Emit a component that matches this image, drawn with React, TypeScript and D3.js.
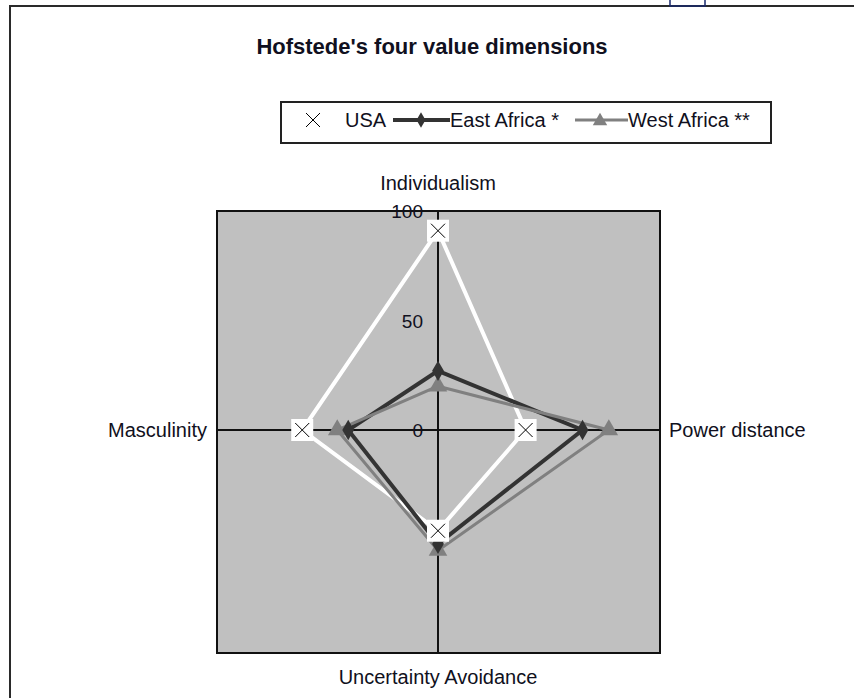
import React from "react";
import * as d3 from "d3";

const categories = ["Individualism", "Power distance", "Uncertainty Avoidance", "Masculinity"];
const seriesNames = ["USA", "East Africa *", "West Africa **"];
const usaValues = [91, 40, 46, 62];
const eastAfricaValues = [27, 66, 52, 41];
const westAfricaValues = [20, 78, 55, 46];
const tickValues = [0, 50, 100];

const W = 854;
const H = 698;
const cx = 438;
const cy = 430;
const R = 219;
const FONT = "'Liberation Sans', Arial, sans-serif";
const TXT = "#101020";

const r = d3.scaleLinear().domain([0, 100]).range([0, R]);
const angle = d3
  .scalePoint<string>()
  .domain(categories)
  .range([0, 2 * Math.PI * (3 / 4)]);

function pt(cat: string, v: number): [number, number] {
  const a = angle(cat) as number;
  return [cx + r(v) * Math.sin(a), cy - r(v) * Math.cos(a)];
}

const radial = d3
  .lineRadial<number>()
  .angle((_, i) => angle(categories[i]) as number)
  .radius((v) => r(v))
  .curve(d3.curveLinearClosed);

const diamond = d3.symbol().type(d3.symbolDiamond).size(120)() as string;
const triangle = d3.symbol().type(d3.symbolTriangle).size(150)() as string;
const diamondLegend = d3.symbol().type(d3.symbolDiamond).size(70)() as string;
const triangleLegend = d3.symbol().type(d3.symbolTriangle).size(90)() as string;

function XMarker({ x, y, box }: { x: number; y: number; box: boolean }) {
  const s = 7;
  return (
    <g transform={`translate(${x},${y})`}>
      {box && <rect x={-11} y={-11} width={22} height={22} fill="#ffffff" />}
      <path d={`M${-s},${-s}L${s},${s}M${-s},${s}L${s},${-s}`} stroke="#000" strokeWidth={1} fill="none" />
    </g>
  );
}

export default function App() {
  const series = [
    { name: seriesNames[0], values: usaValues, color: "#ffffff", width: 4 },
    { name: seriesNames[1], values: eastAfricaValues, color: "#333333", width: 4 },
    { name: seriesNames[2], values: westAfricaValues, color: "#808080", width: 3 },
  ];
  const plotLeft = 217;
  const plotRight = 660;
  const plotTop = 211;
  const plotBottom = 653;

  return (
    <svg
      width={W}
      height={H}
      style={{ position: "absolute", left: 0, top: 0, background: "#fff" }}
      fontFamily={FONT}
    >
      {/* outer frame */}
      <rect x={10} y={6} width={900} height={760} fill="#fff" stroke="#2a2a2a" strokeWidth={2} />
      <rect x={670} y={-2} width={35} height={8} fill="none" stroke="#1a2a6c" strokeWidth={1.5} />

      {/* title */}
      <text x={432} y={54} textAnchor="middle" fontSize={22} fontWeight="bold" fill={TXT}>
        Hofstede's four value dimensions
      </text>

      {/* legend */}
      <g>
        <rect x={281} y={102} width={490} height={41} fill="#fff" stroke="#222" strokeWidth={2} />
        <XMarker x={313} y={120} box={false} />
        <text x={345} y={127} fontSize={20} fill={TXT}>{seriesNames[0]}</text>
        <line x1={393} x2={450} y1={120} y2={120} stroke="#333333" strokeWidth={4} />
        <path d={diamondLegend} transform="translate(421,120)" fill="#333333" />
        <text x={450} y={127} fontSize={20} fill={TXT}>{seriesNames[1]}</text>
        <line x1={575} x2={628} y1={120} y2={120} stroke="#808080" strokeWidth={3} />
        <path d={triangleLegend} transform="translate(600,121)" fill="#808080" />
        <text x={628} y={127} fontSize={20} fill={TXT}>{seriesNames[2]}</text>
      </g>

      {/* plot area */}
      <rect
        x={plotLeft}
        y={plotTop}
        width={plotRight - plotLeft}
        height={plotBottom - plotTop}
        fill="#c0c0c0"
        stroke="#111"
        strokeWidth={2}
      />
      <line x1={cx} x2={cx} y1={plotTop} y2={plotBottom} stroke="#111" strokeWidth={2} />
      <line x1={plotLeft} x2={plotRight} y1={cy} y2={cy} stroke="#111" strokeWidth={2} />

      {/* ticks */}
      {tickValues.map((t) => (
        <text key={t} x={423} y={cy - r(t) + 7} textAnchor="end" fontSize={19} fill={TXT}>
          {t}
        </text>
      ))}

      {/* axis labels */}
      <text x={cx} y={190} textAnchor="middle" fontSize={20} fill={TXT}>{categories[0]}</text>
      <text x={669} y={437} textAnchor="start" fontSize={20} fill={TXT}>{categories[1]}</text>
      <text x={cx} y={684} textAnchor="middle" fontSize={20} fill={TXT}>{categories[2]}</text>
      <text x={207} y={437} textAnchor="end" fontSize={20} fill={TXT}>{categories[3]}</text>

      {/* series lines */}
      {series.map((s) => (
        <path
          key={s.name}
          d={radial(s.values) as string}
          transform={`translate(${cx},${cy})`}
          fill="none"
          stroke={s.color}
          strokeWidth={s.width}
          strokeLinejoin="miter"
        />
      ))}

      {/* markers */}
      {westAfricaValues.map((v, i) => {
        const [x, y] = pt(categories[i], v);
        return <path key={"w" + i} d={triangle} transform={`translate(${x},${y})`} fill="#808080" />;
      })}
      {eastAfricaValues.map((v, i) => {
        const [x, y] = pt(categories[i], v);
        return <path key={"e" + i} d={diamond} transform={`translate(${x},${y})`} fill="#333333" />;
      })}
      {usaValues.map((v, i) => {
        const [x, y] = pt(categories[i], v);
        return <XMarker key={"u" + i} x={x} y={y} box={true} />;
      })}
    </svg>
  );
}
